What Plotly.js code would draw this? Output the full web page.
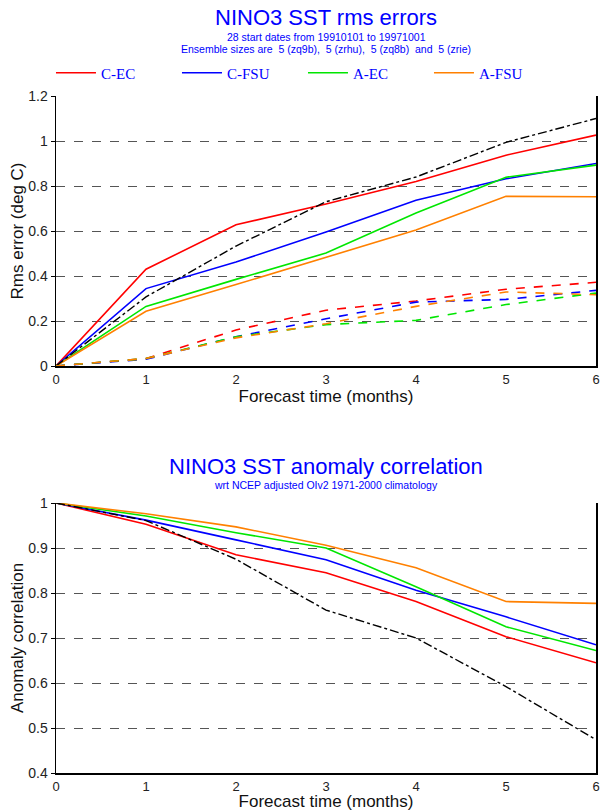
<!DOCTYPE html>
<html>
<head>
<meta charset="utf-8">
<script src="https://cdn.plot.ly/plotly-3.0.1.min.js"></script>
<style>html,body{margin:0;padding:0;background:#fff;}#chart{width:600px;height:811px;}</style>
</head>
<body>
<div id="chart"></div>
<script>
// Forecast lead times (months)
const months = [0, 1, 2, 3, 4, 5, 6];

// RMS errors (deg C) - solid lines
const rmsCEC  = [0, 0.43, 0.628, 0.72, 0.82, 0.937, 1.026];
const rmsCFSU = [0, 0.344, 0.462, 0.596, 0.737, 0.832, 0.90];
const rmsAEC  = [0, 0.265, 0.385, 0.502, 0.68, 0.839, 0.893];
const rmsAFSU = [0, 0.243, 0.362, 0.484, 0.604, 0.754, 0.752];
const rmsPersist = [0, 0.307, 0.533, 0.73, 0.84, 0.994, 1.10];
// Ensemble spread - dashed lines
const sprCEC  = [0, 0.033, 0.16, 0.248, 0.289, 0.341, 0.372];
const sprCFSU = [0, 0.03, 0.13, 0.21, 0.284, 0.296, 0.336];
const sprAEC  = [0, 0.033, 0.13, 0.184, 0.203, 0.273, 0.324];
const sprAFSU = [0, 0.033, 0.125, 0.188, 0.265, 0.329, 0.317];

// Anomaly correlation
const acCEC  = [1, 0.953, 0.885, 0.845, 0.781, 0.703, 0.645];
const acCFSU = [1, 0.962, 0.918, 0.874, 0.806, 0.747, 0.685];
const acAEC  = [1, 0.971, 0.934, 0.90, 0.814, 0.725, 0.672];
const acAFSU = [1, 0.976, 0.947, 0.906, 0.856, 0.781, 0.777];
const acPersist = [1, 0.961, 0.875, 0.762, 0.70, 0.592, 0.474];

const names = ['C-EC', 'C-FSU', 'A-EC', 'A-FSU'];
const colors = ['#ff0000', '#0000ff', '#00e600', '#ff8000'];

const rmsSets = [rmsCEC, rmsCFSU, rmsAEC, rmsAFSU];
const sprSets = [sprCEC, sprCFSU, sprAEC, sprAFSU];
const acSets = [acCEC, acCFSU, acAEC, acAFSU];

const traces = [];
rmsSets.forEach((v, i) => traces.push({x: months, y: v, type: 'scatter', mode: 'lines', name: names[i],
  line: {color: colors[i], width: 1.6}, xaxis: 'x', yaxis: 'y', showlegend: true}));
traces.push({x: months, y: rmsPersist, type: 'scatter', mode: 'lines', name: 'Persistence',
  line: {color: '#000', width: 1.4, dash: 'dashdot'}, xaxis: 'x', yaxis: 'y', showlegend: false});
sprSets.forEach((v, i) => traces.push({x: months, y: v, type: 'scatter', mode: 'lines', name: names[i] + ' spread',
  line: {color: colors[i], width: 1.6, dash: 'dash'}, xaxis: 'x', yaxis: 'y', showlegend: false}));
acSets.forEach((v, i) => traces.push({x: months, y: v, type: 'scatter', mode: 'lines', name: names[i],
  line: {color: colors[i], width: 1.6}, xaxis: 'x2', yaxis: 'y2', showlegend: false}));
traces.push({x: months, y: acPersist, type: 'scatter', mode: 'lines', name: 'Persistence',
  line: {color: '#000', width: 1.4, dash: 'dashdot'}, xaxis: 'x2', yaxis: 'y2', showlegend: false});

const T = 96, B = 38, H = 811 - T - B;
const py = p => (811 - B - p) / H; // pixel y -> paper y
const tickFont = {family: 'Liberation Sans, Arial, sans-serif', size: 14, color: '#222'};
const xTickFont = {family: 'Liberation Sans, Arial, sans-serif', size: 13, color: '#222'};
const titleFont = {family: 'Liberation Sans, Arial, sans-serif', size: 17, color: '#111'};

const xax = (anchor) => ({
  range: [0, 6], dtick: 1, tick0: 0, anchor: anchor, showgrid: false, zeroline: false,
  showline: true, linecolor: '#000', linewidth: 2, ticks: '', tickfont: xTickFont,
  ticklabeloverflow: 'allow',
  title: {text: 'Forecast time (months)', font: titleFont, standoff: 3}
});
const yax = (anchor, range, dtick, domain, title) => ({
  range: range, dtick: dtick, anchor: anchor, domain: domain, zeroline: false,
  showline: true, linecolor: '#000', linewidth: 1.5, mirror: true,
  showgrid: true, gridcolor: '#555', griddash: 'dash', gridwidth: 1,
  ticks: 'outside', ticklen: 4, tickcolor: '#000', tickfont: tickFont,
  title: {text: title, font: titleFont, standoff: 0}
});

const blue = '#0000ff';
const sans = 'Liberation Sans, Arial, sans-serif';
const ann = (text, y, size) => ({text: text, x: 0.5, xref: 'paper', y: py(y), yref: 'paper',
  showarrow: false, font: {family: sans, size: size, color: blue}, xanchor: 'center', yanchor: 'middle'});

const layout = {
  width: 600, height: 811,
  margin: {l: 56, r: 4, t: T, b: B},
  paper_bgcolor: '#fff', plot_bgcolor: '#fff',
  showlegend: true,
  legend: {orientation: 'h', x: -0.0093, xanchor: 'left', y: py(73), yanchor: 'middle',
    font: {family: 'Liberation Serif, Times New Roman, serif', size: 15, color: blue},
    entrywidth: 71, entrywidthmode: 'pixels', itemwidth: 40, bgcolor: 'rgba(0,0,0,0)', tracegroupgap: 0},
  xaxis: Object.assign(xax('y'), {domain: [0, 1]}),
  yaxis: yax('x', [0, 1.2], 0.2, [py(366), 1], 'Rms error (deg C)'),
  xaxis2: Object.assign(xax('y2'), {domain: [0, 1]}),
  yaxis2: yax('x2', [0.4, 1], 0.1, [0, py(503)], 'Anomaly correlation'),
  annotations: [
    ann('NINO3 SST rms errors', 18, 22),
    ann('28 start dates from 19910101 to 19971001', 37, 10.5),
    ann('Ensemble sizes are  5 (zq9b),  5 (zrhu),  5 (zq8b)  and  5 (zrie)', 49.5, 10.5),
    ann('NINO3 SST anomaly correlation', 466, 22),
    ann('wrt NCEP adjusted OIv2 1971-2000 climatology', 485, 10.5)
  ]
};

Plotly.newPlot('chart', traces, layout, {displayModeBar: false, staticPlot: true});
</script>
</body>
</html>
